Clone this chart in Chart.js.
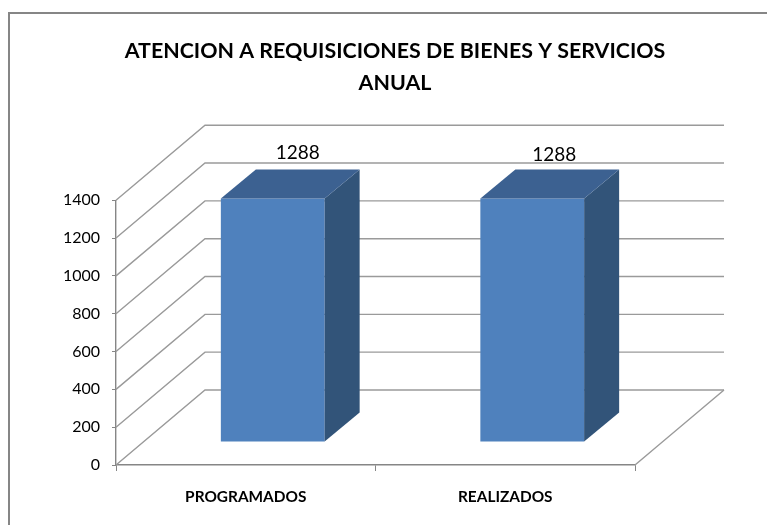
<!DOCTYPE html>
<html>
<head>
<meta charset="utf-8">
<style>
  html, body { margin: 0; padding: 0; background: #fff; }
  #wrap { position: relative; width: 767px; height: 525px; }
</style>
<script src="https://cdn.jsdelivr.net/npm/chart.js@4/dist/chart.umd.min.js"></script>
</head>
<body>
<div id="wrap"><canvas id="chart"></canvas></div>
<script>
const categories = ["PROGRAMADOS", "REALIZADOS"];
const values = [1288, 1288];
const titleLines = ["ATENCION A REQUISICIONES DE BIENES Y SERVICIOS", "ANUAL"];

const fontFamily = "Lato, 'Open Sans', sans-serif";
const gridColor = "#9a9a9a";
const axisColor = "#868686";

// depth of the fake 3D box, in pixels
const wallDepth = { x: 89, y: -75 };
const barShift = { x: 27, y: -23 };
const barDepth = { x: 35, y: -29 };
const labelShift = [{ x: 25, y: -69 }, { x: 22, y: -67 }];

function line(ctx, points) {
  ctx.beginPath();
  points.forEach((p, i) => (i ? ctx.lineTo(p[0], p[1]) : ctx.moveTo(p[0], p[1])));
  ctx.stroke();
}

function face(ctx, points, color) {
  ctx.fillStyle = color;
  ctx.beginPath();
  points.forEach((p, i) => (i ? ctx.lineTo(p[0], p[1]) : ctx.moveTo(p[0], p[1])));
  ctx.closePath();
  ctx.fill();
}

const box3d = {
  id: "box3d",
  afterLayout(chart) {
    // title sits centred over the whole 3D box, not over the front plane
    chart.titleBlock.left = 0;
    chart.titleBlock.right = 790;
  },
  beforeDraw(chart) {
    const ctx = chart.ctx;
    ctx.save();
    ctx.strokeStyle = axisColor;
    ctx.lineWidth = 2;
    ctx.strokeRect(9, 13, 800, 600);
    ctx.restore();
  },
  beforeDatasetsDraw(chart) {
    const ctx = chart.ctx;
    const { left, right, bottom } = chart.chartArea;
    const yScale = chart.scales.y;
    ctx.save();
    ctx.strokeStyle = gridColor;
    ctx.lineWidth = 1.4;
    yScale.ticks.forEach((t) => {
      const y = yScale.getPixelForValue(t.value);
      line(ctx, [
        [left, y],
        [left + wallDepth.x, y + wallDepth.y],
        [right + wallDepth.x, y + wallDepth.y]
      ]);
    });
    line(ctx, [
      [right, bottom],
      [right + wallDepth.x, bottom + wallDepth.y]
    ]);
    ctx.restore();
    // front faces are the real bars, moved into the middle of the depth
    ctx.save();
    ctx.translate(barShift.x, barShift.y);
  },
  afterDatasetsDraw(chart) {
    const ctx = chart.ctx;
    ctx.restore();
    chart.getDatasetMeta(0).data.forEach((bar, i) => {
      const x0 = bar.x - bar.width / 2 + barShift.x;
      const x1 = bar.x + bar.width / 2 + barShift.x;
      const top = bar.y + barShift.y;
      const base = bar.base + barShift.y;
      face(ctx, [
        [x1, top],
        [x1 + barDepth.x, top + barDepth.y],
        [x1 + barDepth.x, base + barDepth.y],
        [x1, base]
      ], "#325479");
      face(ctx, [
        [x0, top],
        [x0 + barDepth.x, top + barDepth.y],
        [x1 + barDepth.x, top + barDepth.y],
        [x1, top]
      ], "#3c6191");
      ctx.fillStyle = "#000";
      ctx.font = "19px " + fontFamily;
      ctx.textAlign = "center";
      ctx.textBaseline = "middle";
      ctx.fillText(String(values[i]), bar.x + barShift.x + labelShift[i].x, bar.y + labelShift[i].y);
    });
  }
};

new Chart(document.getElementById("chart"), {
  type: "bar",
  data: {
    labels: categories,
    datasets: [
      {
        label: "Anual",
        data: values,
        backgroundColor: "#4f81bd",
        barPercentage: 0.4,
        categoryPercentage: 1,
        clip: false
      }
    ]
  },
  options: {
    responsive: true,
    maintainAspectRatio: false,
    animation: false,
    layout: { padding: { left: 0, right: 132, top: 0, bottom: 0 } },
    plugins: {
      legend: { display: false },
      tooltip: { enabled: false },
      title: {
        display: true,
        text: titleLines,
        color: "#000",
        font: { family: fontFamily, size: 21.4, weight: "bold", lineHeight: 1.5 },
        padding: { top: 35, bottom: 101 }
      }
    },
    scales: {
      x: {
        afterFit: (s) => { s.height = 60; },
        border: { color: axisColor, width: 1.4 },
        grid: { offset: true, drawOnChartArea: false, color: axisColor, tickLength: 6 },
        ticks: { color: "#000", padding: 17, font: { family: fontFamily, size: 15.4, weight: "bold" } }
      },
      y: {
        min: 0,
        max: 1400,
        afterFit: (s) => { s.width = 116; },
        border: { color: axisColor, width: 1.4 },
        grid: { drawOnChartArea: false, color: axisColor, tickLength: 4 },
        ticks: {
          color: "#000",
          stepSize: 200,
          padding: 12,
          font: { family: fontFamily, size: 16 },
          callback: (v) => String(v)
        }
      }
    }
  },
  plugins: [box3d]
});
</script>
</body>
</html>
